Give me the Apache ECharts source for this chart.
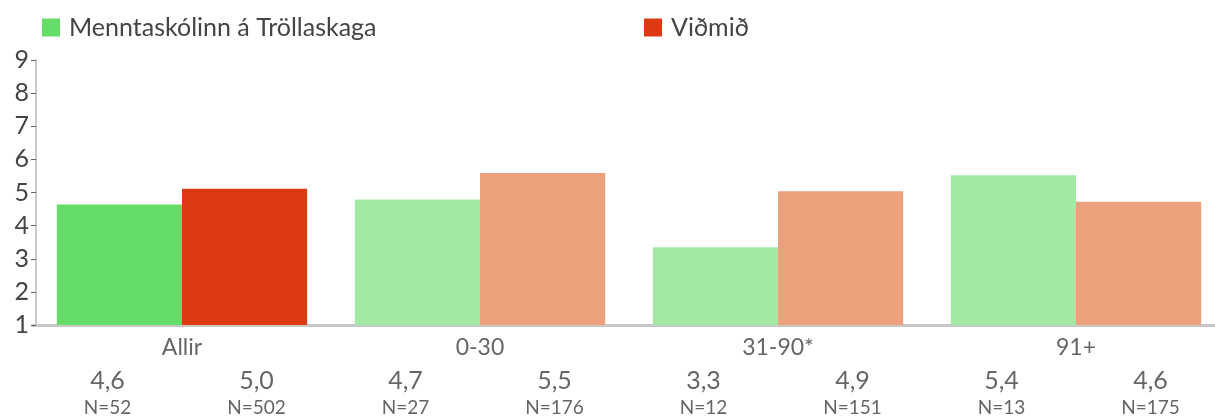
<!DOCTYPE html>
<html>
<head>
<meta charset="utf-8">
<script src="https://cdn.jsdelivr.net/npm/echarts@6/dist/echarts.min.js"></script>
<style>html,body{margin:0;padding:0;background:#fff;overflow:hidden;}#c{width:1225px;height:417px;}</style>
</head>
<body>
<div id="c"></div>
<script>
var categories = ['Allir', '0-30', '31-90*', '91+'];
var seriesNames = ['Menntaskólinn á Tröllaskaga', 'Viðmið'];
var schoolValues = [4.64, 4.79, 3.35, 5.52];
var refValues = [5.11, 5.59, 5.04, 4.72];
var schoolLabels = ['4,6', '4,7', '3,3', '5,4'];
var refLabels = ['5,0', '5,5', '4,9', '4,6'];
var schoolN = [52, 27, 12, 13];
var refN = [502, 176, 151, 175];
var yTicks = [1, 2, 3, 4, 5, 6, 7, 8, 9];

var FONT = 'Lato';
var darkColors = ['#66dd66', '#dd3a14'];
var lightColors = ['#a3e9a3', '#eda07c'];

var subCats = [];
for (var i = 0; i < categories.length; i++) {
  subCats.push(schoolLabels[i] + '|' + schoolN[i]);
  subCats.push(refLabels[i] + '|' + refN[i]);
}

function mkData(vals, s) {
  return vals.map(function (v, i) {
    return { value: v, itemStyle: { color: i === 0 ? darkColors[s] : lightColors[s] } };
  });
}

var chart = echarts.init(document.getElementById('c'), null, { renderer: 'canvas' });
chart.setOption({
  animation: false,
  textStyle: { fontFamily: FONT },
  legend: [
    { data: [seriesNames[0]], left: 42, top: 15, padding: 0, itemWidth: 18, itemHeight: 18, itemGap: 10,
      icon: 'rect', textStyle: { fontSize: 25, color: '#444', fontFamily: FONT, padding: [0, 0, 0, 4] } },
    { data: [seriesNames[1]], left: 644, top: 15, padding: 0, itemWidth: 18, itemHeight: 18, itemGap: 10,
      icon: 'rect', textStyle: { fontSize: 25, color: '#444', fontFamily: FONT, padding: [0, 0, 0, 4] } }
  ],
  grid: { left: 33, right: 0, top: 60, bottom: 91, containLabel: false },
  xAxis: [
    {
      type: 'category', data: categories, position: 'bottom',
      axisLine: { lineStyle: { color: '#c8c8c8', width: 3 } },
      axisTick: { show: false },
      axisLabel: { margin: 11, fontSize: 23, color: '#666', fontFamily: FONT }
    },
    {
      type: 'category', data: subCats, position: 'bottom',
      axisLine: { show: false }, axisTick: { show: false },
      axisLabel: {
        interval: 0, margin: 42,
        formatter: function (v) {
          var p = v.split('|');
          return '{v|' + p[0] + '}\n{n|N=' + p[1] + '}';
        },
        rich: {
          v: { fontSize: 25, color: '#666', lineHeight: 28, fontFamily: FONT },
          n: { fontSize: 19, color: '#666', lineHeight: 25, fontFamily: FONT }
        }
      }
    }
  ],
  yAxis: {
    type: 'value', min: yTicks[0], max: yTicks[yTicks.length - 1], interval: 1, offset: -3,
    axisLine: { show: true, lineStyle: { color: '#c8c8c8', width: 2 } },
    axisTick: { show: true, length: 5, lineStyle: { color: '#666', width: 1 } },
    splitLine: { show: false },
    axisLabel: { fontSize: 25, color: '#444', margin: 7, fontFamily: FONT }
  },
  series: [
    { name: seriesNames[0], type: 'bar', xAxisIndex: 0, data: mkData(schoolValues, 0),
      itemStyle: { color: darkColors[0] }, barGap: '0%', barCategoryGap: '16%' },
    { name: seriesNames[1], type: 'bar', xAxisIndex: 0, data: mkData(refValues, 1),
      itemStyle: { color: darkColors[1] }, barGap: '0%', barCategoryGap: '16%' }
  ]
});
</script>
</body>
</html>
